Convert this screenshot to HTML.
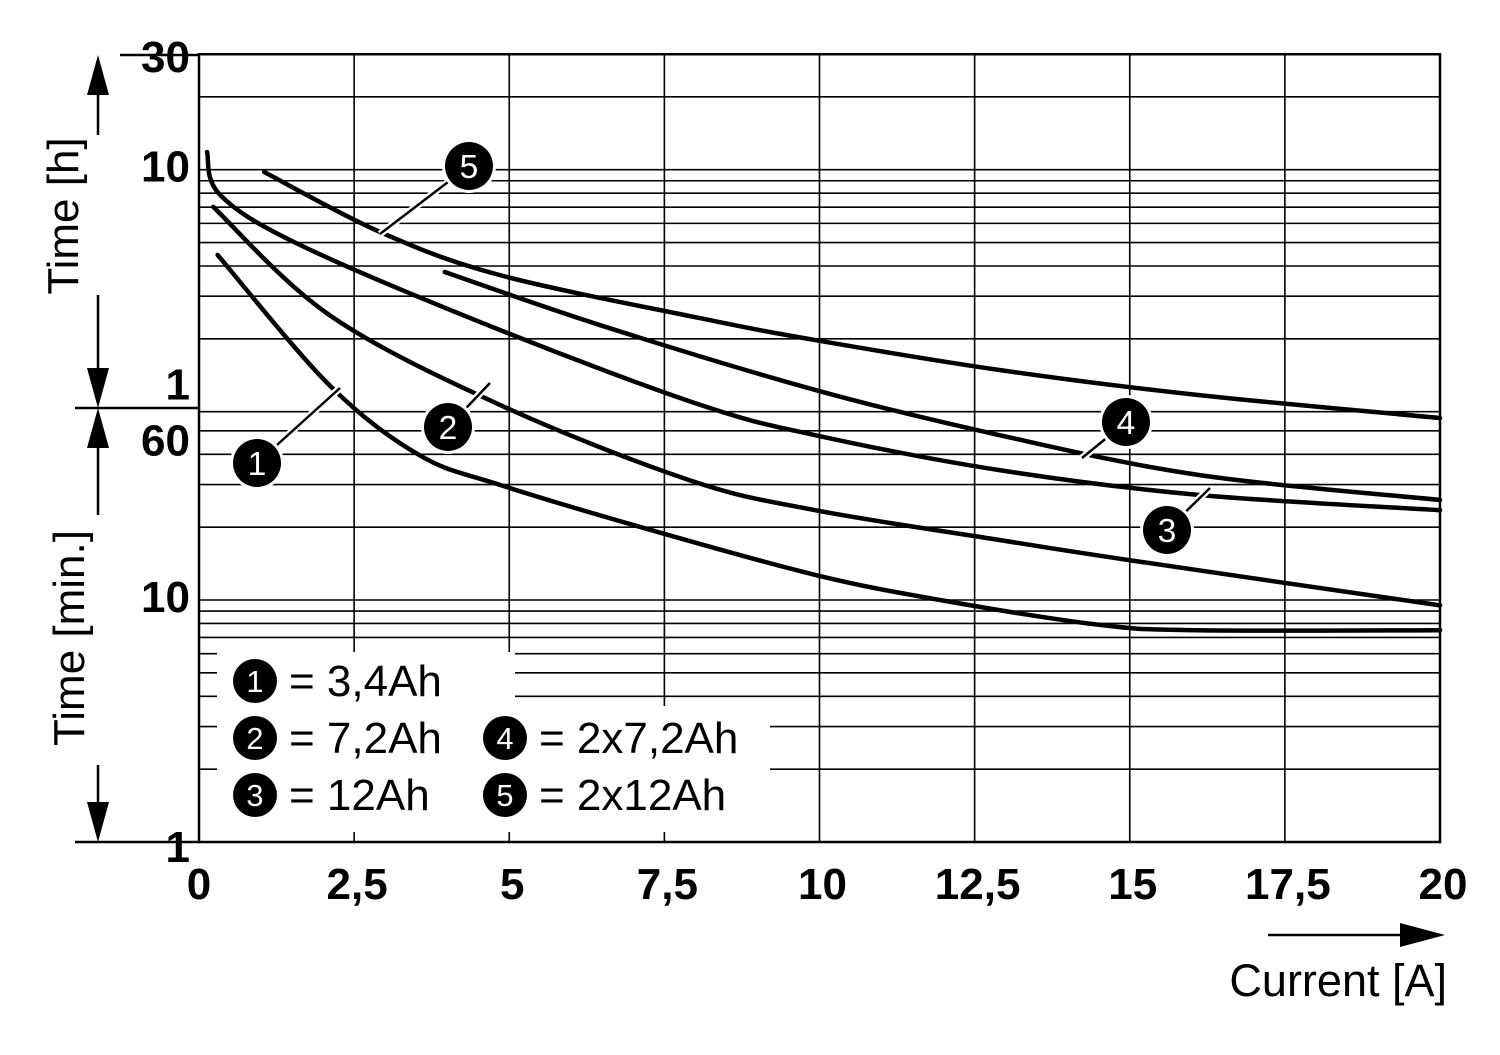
<!DOCTYPE html>
<html><head><meta charset="utf-8"><style>
html,body{margin:0;padding:0;background:#fff;}
svg{display:block;font-family:"Liberation Sans",Arial,sans-serif;}
</style></head><body>
<svg id="chart" width="1500" height="1055" viewBox="0 0 1500 1055" xmlns="http://www.w3.org/2000/svg">
<g id="grid"></g>
<g id="curves"></g>
<g id="axes"></g>
</svg>
<script>
const xTicks = [0, 2.5, 5, 7.5, 10, 12.5, 15, 17.5, 20];
const xTickLabels = ["0", "2,5", "5", "7,5", "10", "12,5", "15", "17,5", "20"];
const gridMinutes = [1,2,3,4,5,6,7,8,9,10,20,30,40,50,60,120,180,240,300,360,420,480,540,600,1200,1800];
const yTickMinutes = [1800, 600, 60, 60, 10, 1];
const yTickLabels = ["30", "10", "1", "60", "10", "1"];
const c1x = [0.3, 2.1, 3.55, 4.85, 7.27, 9.93, 11.94, 14.5, 16.1, 20];
const c1y = [266.6, 77.3, 39.7, 29.9, 19.5, 12.7, 10, 7.9, 7.5, 7.5];
const c2x = [0.23, 2.1, 4.85, 7.9, 9.93, 12.9, 15.0, 20];
const c2y = [421, 150.6, 64, 31.3, 23.5, 17.7, 14.6, 9.5];
const c3x = [0.13, 0.34, 1.63, 4.85, 8.08, 9.93, 12.9, 16.1, 20];
const c3y = [710, 472, 293, 130.5, 64, 48, 34.4, 27.2, 23.5];
const c4x = [3.96, 6.46, 9.93, 12.9, 16.1, 20];
const c4y = [226.6, 136.8, 73.8, 48, 32.9, 25.9];
const c5x = [1.05, 2.92, 4.85, 8.08, 9.93, 12.9, 16.1, 20];
const c5y = [587, 331.6, 220, 146, 118.6, 89.2, 70.3, 56.5];

const NS = "http://www.w3.org/2000/svg";
const X0 = 199, X1 = 1440, Y1MIN = 842, DEC = 242;
function xs(v){ return X0 + v * (X1 - X0) / 20; }
function ys(m){ return Y1MIN - Math.log10(m) * DEC; }
function mk(tag, attrs, parent){ const e = document.createElementNS(NS, tag); for (const k in attrs) e.setAttribute(k, attrs[k]); parent.appendChild(e); return e; }
const grid = document.getElementById('grid'), curves = document.getElementById('curves'), axes = document.getElementById('axes');

gridMinutes.forEach(m => {
  const l = mk('line', {x1:X0, x2:X1, y1:ys(m), y2:ys(m), stroke:'#000', 'stroke-width':1.6}, grid);
  
  
});
xTicks.forEach((v, i) => {
  const l = mk('line', {x1:xs(v), x2:xs(v), y1:ys(1800), y2:ys(1), stroke:'#000', 'stroke-width':1.6}, grid);
  
  
  const t = mk('text', {x:xs(v)+(i==0?0:3), y:899, 'font-size':44, 'font-weight':'bold', 'text-anchor':'middle'}, axes);
  t.textContent = xTickLabels[i];
  
  
});
const frame = mk('rect', {x:X0, y:ys(1800), width:X1-X0, height:ys(1)-ys(1800), fill:'none', stroke:'#000', 'stroke-width':2.5}, grid);



const yOff = [18, 12, -12, 44, 12, 20];
yTickMinutes.forEach((m, i) => {
  const t = mk('text', {x:190, y:ys(m)+yOff[i], 'font-size':44, 'font-weight':'bold', 'text-anchor':'end'}, axes);
  t.textContent = yTickLabels[i];
  
  
});

function path(xa, ya){
  const p = xa.map((x, i) => [xs(x), ys(ya[i])]);
  let d = 'M' + p[0][0] + ',' + p[0][1];
  for (let i = 0; i < p.length - 1; i++){
    const p0 = p[Math.max(0,i-1)], p1 = p[i], p2 = p[i+1], p3 = p[Math.min(p.length-1,i+2)];
    const c1 = [p1[0]+(p2[0]-p0[0])/6, p1[1]+(p2[1]-p0[1])/6];
    const c2 = [p2[0]-(p3[0]-p1[0])/6, p2[1]-(p3[1]-p1[1])/6];
    d += ' C' + c1 + ' ' + c2 + ' ' + p2;
  }
  return d;
}
[[c1x,c1y],[c2x,c2y],[c3x,c3y],[c4x,c4y],[c5x,c5y]].forEach((c, i) => {
  const e = mk('path', {d:path(c[0], c[1]), fill:'none', stroke:'#000', 'stroke-width':4.5, 'stroke-linecap':'round'}, curves);
  
  
});

function badge(cx, cy, n, parent, r){
  r = r || 24;
  const g = mk('g', {}, parent);
  
  
  mk('circle', {cx:cx, cy:cy, r:r+3, fill:'#fff'}, g);
  mk('circle', {cx:cx, cy:cy, r:r, fill:'#000'}, g);
  const t = mk('text', {x:cx, y:cy+r*0.5, 'font-size':r*1.4, fill:'#fff', 'text-anchor':'middle'}, g);
  t.textContent = n;
}
const leaders = [[257,463,340,388,1],[448,427,490,383,2],[1167,530,1210,488,3],[1126,422,1082,458,4],[469,166,380,234,5]];
leaders.forEach(l => {
  const ln = mk('line', {x1:l[0], y1:l[1], x2:l[2], y2:l[3], stroke:'#fff', 'stroke-width':7}, curves);
  
  
  const ln2 = mk('line', {x1:l[0], y1:l[1], x2:l[2], y2:l[3], stroke:'#000', 'stroke-width':2.5}, curves);
  
  
  badge(l[0], l[1], l[4], curves);
});

const lg = mk('g', {}, axes);


mk('rect', {x:217, y:652, width:298, height:60, fill:'#fff'}, lg);
mk('rect', {x:217, y:706, width:553, height:126, fill:'#fff'}, lg);
const items = [[255,681,'1','= 3,4Ah'],[255,738,'2','= 7,2Ah'],[255,795,'3','= 12Ah'],[505,738,'4','= 2x7,2Ah'],[505,795,'5','= 2x12Ah']];
items.forEach(it => {
  badge(it[0], it[1], it[2], lg, 22);
  const t = mk('text', {x:it[0]+34, y:it[1]+15, 'font-size':44}, lg);
  t.textContent = it[3];
  
  
});

function L(x1,y1,x2,y2,w,name){ const l = mk('line',{x1:x1,y1:y1,x2:x2,y2:y2,stroke:'#000','stroke-width':w||2.5},axes);   }
function tri(pts,name){ const p = mk('polygon',{points:pts,fill:'#000'},axes);   }
L(120,55,199,55,2.5,'tick-top');
L(75,408,199,408,2.5,'tick-mid');
L(75,842,199,842,2.5,'tick-bottom');
L(98,90,98,135,2.5,'h-arrow-line-top');
L(98,295,98,375,2.5,'h-arrow-line-bottom');
tri('98,55 87,95 109,95','h-arrow-up');
tri('98,408 87,368 109,368','h-arrow-down');
L(98,440,98,515,2.5,'min-arrow-line-top');
L(98,765,98,805,2.5,'min-arrow-line-bottom');
tri('98,408 87,448 109,448','min-arrow-up');
tri('98,842 87,802 109,802','min-arrow-down');
const th = mk('text',{x:0,y:0,'font-size':44,'text-anchor':'middle',transform:'translate(78,216) rotate(-90)'},axes);
th.textContent = 'Time [h]';


const tm = mk('text',{x:0,y:0,'font-size':44,'text-anchor':'middle',transform:'translate(84,638) rotate(-90)'},axes);
tm.textContent = 'Time [min.]';


L(1268,935,1410,935,2.5,'x-arrow-line');
tri('1445,935 1400,923 1400,947','x-arrow-head');
const cx = mk('text',{x:1447,y:996,'font-size':45,'text-anchor':'end'},axes);
cx.textContent = 'Current [A]';


</script>
</body></html>
